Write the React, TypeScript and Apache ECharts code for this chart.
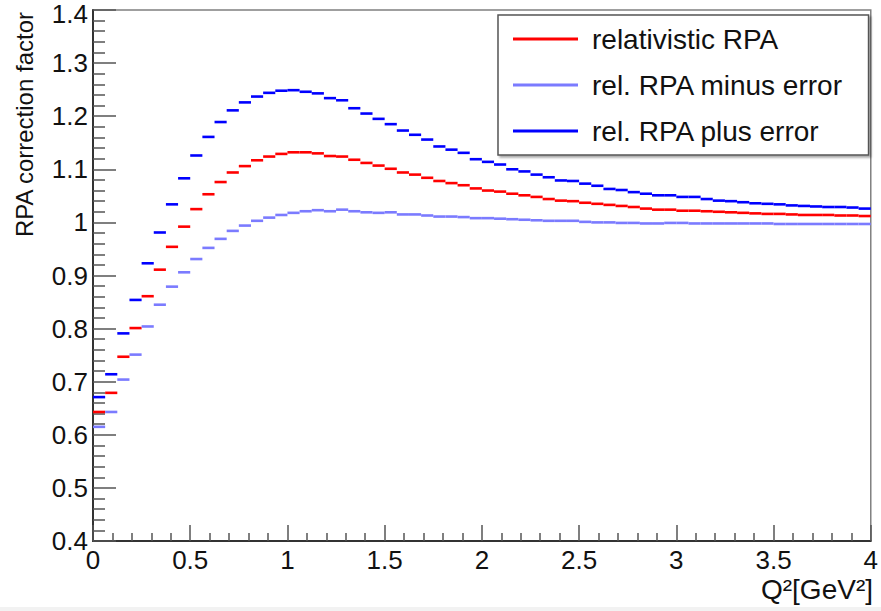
import React, { useEffect, useRef } from "react";
import * as echarts from "echarts";

// Q^2 histogram bins: 64 bins of width 0.0625 GeV^2 from 0 to 4
const BIN_WIDTH = 0.0625;
const N_BINS = 64;

const SERIES_NAMES = ["relativistic RPA", "rel. RPA minus error", "rel. RPA plus error"];
const SERIES_COLORS = ["#ff0000", "#7b7bff", "#0000ff"];

const relRPA = [
  0.643, 0.679, 0.747, 0.801, 0.861, 0.911, 0.954, 0.992, 1.025, 1.053,
  1.076, 1.094, 1.106, 1.117, 1.124, 1.129, 1.132, 1.132, 1.130, 1.125,
  1.124, 1.118, 1.112, 1.107, 1.101, 1.094, 1.090, 1.084, 1.078, 1.074,
  1.070, 1.064, 1.060, 1.058, 1.054, 1.051, 1.048, 1.044, 1.041, 1.040,
  1.037, 1.035, 1.033, 1.031, 1.029, 1.026, 1.024, 1.024, 1.022, 1.022,
  1.021, 1.020, 1.019, 1.018, 1.017, 1.016, 1.016, 1.015, 1.014, 1.014,
  1.014, 1.013, 1.013, 1.012,
];

const relRPAMinus = [
  0.615, 0.643, 0.704, 0.751, 0.804, 0.845, 0.879, 0.906, 0.931, 0.952,
  0.969, 0.984, 0.994, 1.003, 1.009, 1.014, 1.018, 1.021, 1.023, 1.021,
  1.024, 1.021, 1.019, 1.018, 1.019, 1.015, 1.015, 1.013, 1.011, 1.011,
  1.010, 1.008, 1.008, 1.007, 1.006, 1.005, 1.004, 1.003, 1.003, 1.003,
  1.001, 1.000, 1.000, 0.999, 0.999, 0.998, 0.998, 0.999, 0.999, 0.998,
  0.998, 0.998, 0.998, 0.998, 0.998, 0.998, 0.997, 0.997, 0.997, 0.997,
  0.997, 0.997, 0.997, 0.997,
];

const relRPAPlus = [
  0.671, 0.714, 0.791, 0.854, 0.923, 0.981, 1.034, 1.083, 1.126, 1.161,
  1.189, 1.211, 1.226, 1.237, 1.244, 1.248, 1.249, 1.246, 1.243, 1.234,
  1.230, 1.215, 1.205, 1.195, 1.185, 1.173, 1.165, 1.156, 1.143, 1.137,
  1.131, 1.119, 1.114, 1.109, 1.100, 1.096, 1.090, 1.085, 1.079, 1.078,
  1.073, 1.069, 1.063, 1.061, 1.057, 1.054, 1.051, 1.051, 1.048, 1.048,
  1.044, 1.041, 1.040, 1.038, 1.036, 1.035, 1.034, 1.032, 1.031, 1.030,
  1.029, 1.029, 1.028, 1.026,
];

const SERIES_VALUES = [relRPA, relRPAMinus, relRPAPlus];

const Y_MIN = 0.4;
const Y_MAX = 1.4;
const Y_TOP_LABEL = "1.4";

const FONT = "'Liberation Sans', Arial, Helvetica, sans-serif";

function toBins(values: number[]) {
  return values.slice(0, N_BINS).map((v, i) => [i * BIN_WIDTH, (i + 1) * BIN_WIDTH, v]);
}

export default function App() {
  const ref = useRef<HTMLDivElement>(null);

  useEffect(() => {
    if (!ref.current) return;
    const chart = echarts.init(ref.current, undefined, { renderer: "svg" });

    const series = SERIES_NAMES.map((name, idx) => {
      const color = SERIES_COLORS[idx];
      return {
        type: "custom",
        name,
        itemStyle: { color },
        encode: { x: [0, 1], y: 2 },
        clip: true,
        data: toBins(SERIES_VALUES[idx]),
        renderItem: (_params: any, api: any) => {
          const lo = api.coord([api.value(0), api.value(2)]);
          const hi = api.coord([api.value(1), api.value(2)]);
          return {
            type: "line",
            shape: { x1: lo[0], y1: lo[1], x2: hi[0], y2: hi[1] },
            style: { stroke: color, lineWidth: 2.6 },
          };
        },
      };
    });

    chart.setOption({
      animation: false,
      backgroundColor: "#ffffff",
      textStyle: { fontFamily: FONT },
      grid: {
        left: 93,
        top: 10,
        width: 780,
        height: 531,
        show: true,
        borderColor: "#808080",
        borderWidth: 1.5,
        backgroundColor: "transparent",
      },
      xAxis: {
        type: "value",
        min: 0,
        max: 4,
        interval: 0.5,
        axisLine: { show: true, onZero: false, lineStyle: { color: "#333", width: 2 } },
        axisTick: { show: true, inside: true, length: 16, lineStyle: { color: "#555", width: 1.5 } },
        minorTick: { show: true, splitNumber: 5, length: 8, lineStyle: { color: "#555", width: 1.5 } },
        splitLine: { show: false },
        axisLabel: { fontSize: 26, color: "#111", margin: 6, fontFamily: FONT, showMinLabel: true, showMaxLabel: true },
      },
      yAxis: {
        type: "value",
        min: Y_MIN,
        max: Y_MAX,
        interval: 0.1,
        axisLine: { show: true, onZero: false, lineStyle: { color: "#333", width: 2 } },
        axisTick: { show: true, inside: true, length: 23, lineStyle: { color: "#555", width: 1.5 } },
        minorTick: { show: true, splitNumber: 5, length: 12, lineStyle: { color: "#555", width: 1.5 } },
        splitLine: { show: false },
        axisLabel: { fontSize: 26, color: "#111", margin: 5, fontFamily: FONT, showMinLabel: true, showMaxLabel: false },
      },
      legend: {
        orient: "vertical",
        left: 498,
        top: 15,
        padding: [10, 25, 10, 15],
        itemGap: 18,
        itemWidth: 65,
        itemHeight: 3,
        icon: "rect",
        selectedMode: false,
        backgroundColor: "#ffffff",
        borderColor: "#555",
        borderWidth: 1.5,
        shadowColor: "rgba(0,0,0,0.35)",
        shadowOffsetX: 2,
        shadowOffsetY: 2,
        shadowBlur: 2,
        textStyle: { fontSize: 28, color: "#111", fontFamily: FONT, padding: [0, 0, 0, 9] },
        data: SERIES_NAMES,
      },
      graphic: [
        {
          type: "text",
          x: 88,
          y: 14,
          style: {
            text: Y_TOP_LABEL,
            fontSize: 26,
            fontFamily: FONT,
            fill: "#111",
            align: "right",
            verticalAlign: "middle",
          },
        },
        {
          type: "text",
          x: 24,
          y: 12,
          rotation: Math.PI / 2,
          style: {
            text: "RPA correction factor",
            fontSize: 24,
            fontFamily: FONT,
            fill: "#111",
            align: "right",
            verticalAlign: "middle",
          },
        },
        {
          type: "text",
          x: 873,
          y: 589,
          style: {
            text: "Q²[GeV²]",
            fontSize: 28,
            fontFamily: FONT,
            fill: "#111",
            align: "right",
            verticalAlign: "middle",
          },
        },
        {
          type: "rect",
          shape: { x: 0, y: 607, width: 881, height: 4 },
          style: { fill: "#f2f2f2" },
          silent: true,
        },
      ],
      series,
    });

    return () => chart.dispose();
  }, []);

  return (
    <div
      ref={ref}
      style={{ position: "absolute", left: 0, top: 0, width: 881, height: 611 }}
    />
  );
}
